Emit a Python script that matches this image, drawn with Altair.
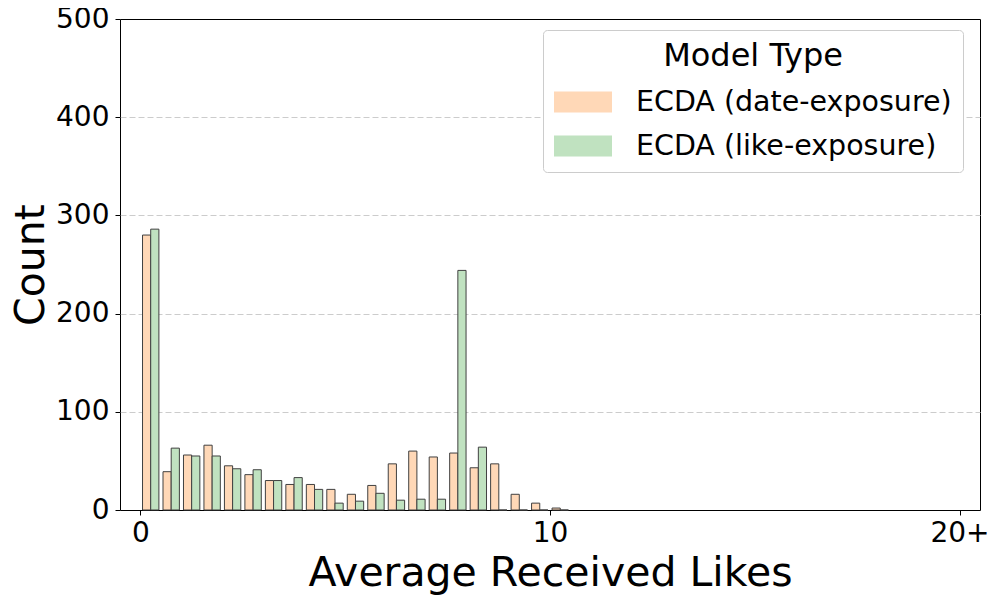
import altair as alt
import pandas as pd

# Histogram counts per 0.5-wide bin, starting at 0 (bins beyond 10.5 are empty; last bin is "20+")
bin_width = 0.5
date_exposure = [280, 39, 56, 66, 45, 36, 30, 26, 26, 21, 16, 25, 47, 60, 54, 58, 43, 47, 16, 7, 2]
like_exposure = [286, 63, 55, 55, 42, 41, 30, 33, 21, 7, 9, 17, 10, 11, 11, 244, 64, 0, 0, 0, 0]
series_names = ["ECDA (date-exposure)", "ECDA (like-exposure)"]
series_colors = ["#FFD8B7", "#C0E2C0"]
x_ticks = [0, 10, 20]
y_ticks = [0, 100, 200, 300, 400, 500]

rows = []
for name, vals, k in [(series_names[0], date_exposure, 0), (series_names[1], like_exposure, 1)]:
    for i, v in enumerate(vals):
        rows.append({"bin_start": i * bin_width, "series": name, "k": k, "count": v})
df = pd.DataFrame(rows)

FONT = "DejaVu Sans"
W, H = 860, 491
TOP = 11

legend_path = "M-1,-0.36L1,-0.36L1,0.36L-1,0.36Z"

bars = alt.Chart(df).transform_calculate(
    x_lo=f"datum.bin_start + {bin_width}*0.1 + datum.k*{bin_width}*0.4",
    x_hi=f"datum.bin_start + {bin_width}*0.1 + (datum.k+1)*{bin_width}*0.4",
).mark_rect(stroke="#404040", strokeWidth=1).encode(
    x=alt.X("x_lo:Q", scale=alt.Scale(domain=[-0.5, 20.5], nice=False, zero=False),
            axis=alt.Axis(values=x_ticks, title="Average Received Likes",
                          labelExpr="datum.value == 20 ? '20+' : datum.label",
                          grid=False, domain=False, tickColor="black", tickSize=5,
                          labelFontSize=28, labelFont=FONT, labelColor="black", labelPadding=4,
                          titleFontSize=41, titleFont=FONT, titleFontWeight="normal",
                          titleColor="black", titleY=75, titleBaseline="alphabetic")),
    x2="x_hi:Q",
    y=alt.Y("count:Q", scale=alt.Scale(domain=[0, 500], nice=False),
            axis=alt.Axis(values=y_ticks, title="Count", grid=True,
                          gridDash=[6, 3], gridColor="#cccccc", gridWidth=1,
                          gridOpacity={"condition": {"test": "datum.value == 0 || datum.value == 500",
                                                     "value": 0}, "value": 1},
                          domain=False, tickColor="black", tickSize=5,
                          labelFontSize=28, labelFont=FONT, labelColor="black", labelPadding=6,
                          titleFontSize=41, titleFont=FONT, titleFontWeight="normal",
                          titleColor="black", titleX=-77, titleY=H / 2,
                          titleAngle=-90, titleAlign="center", titleBaseline="alphabetic")),
    y2=alt.value(H),
    color=alt.Color("series:N", scale=alt.Scale(domain=series_names, range=series_colors),
                    legend=alt.Legend(title="Model Type", orient="none",
                                      legendX=423, legendY=30 - 8 - TOP,
                                      padding=11, fillColor="white", strokeColor="#cccccc",
                                      cornerRadius=4,
                                      titleFont=FONT, titleFontSize=32, titleFontWeight="normal",
                                      titleColor="black", titleAnchor="middle", titlePadding=0,
                                      labelFont=FONT, labelFontSize=28.5, labelColor="black",
                                      labelLimit=0,
                                      symbolType=legend_path, symbolSize=3364,
                                      symbolStrokeWidth=0, symbolOpacity=1,
                                      labelOffset=24, rowPadding=0)),
)

chart = bars.properties(
    width=W, height=H,
    autosize=alt.AutoSizeParams(type="none"),
    padding={"left": 112, "top": TOP, "right": 12, "bottom": 88},
).configure(background="white").configure_view(stroke="black", strokeWidth=1)

chart.save("out.html", embed_options={"renderer": "svg", "actions": False})
